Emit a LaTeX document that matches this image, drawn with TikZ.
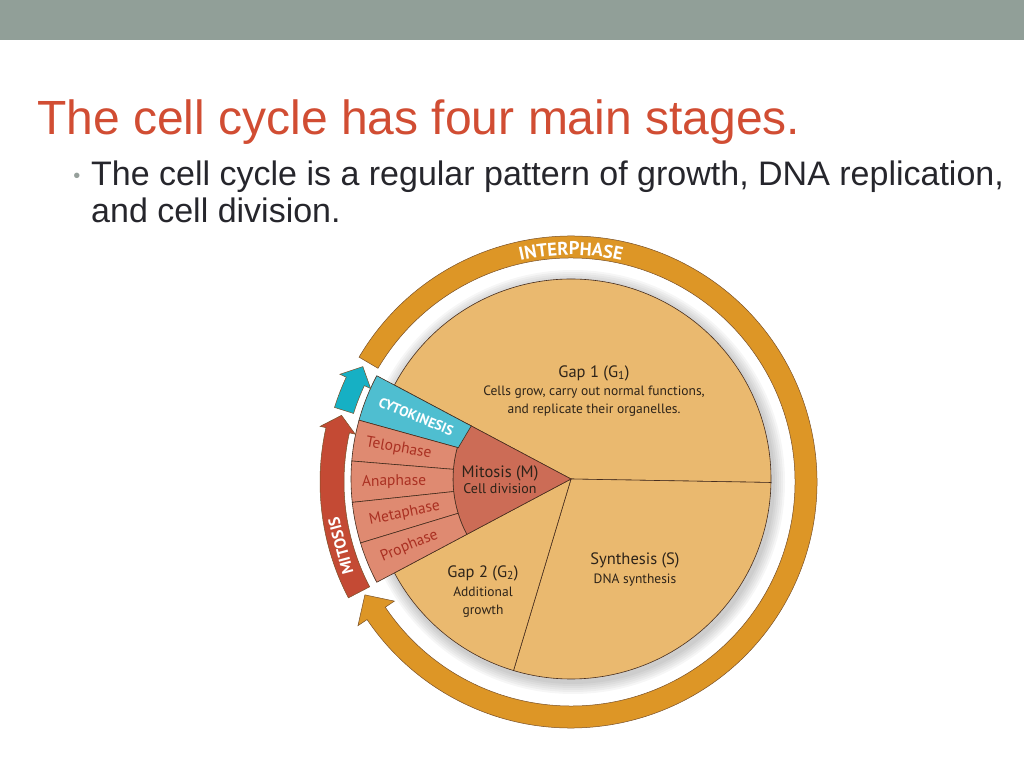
\documentclass[tikz,border=0pt]{standalone}
\usepackage{fontspec}
\setmainfont{Liberation Sans}
\newfontfamily\labfont{PT Sans}
\usetikzlibrary{decorations.text}
\definecolor{topbar}{RGB}{145,159,152}
\definecolor{titlered}{RGB}{209,77,51}
\definecolor{bodytext}{RGB}{38,38,44}
\definecolor{bulletgray}{RGB}{150,160,155}
\definecolor{piefill}{RGB}{234,185,111}
\definecolor{pieedge}{RGB}{70,45,30}
\definecolor{pietext}{RGB}{45,35,25}
\definecolor{mitcore}{RGB}{204,108,86}
\definecolor{phasefill}{RGB}{223,138,113}
\definecolor{phasetext}{RGB}{170,48,34}
\definecolor{cytofill}{RGB}{79,190,208}
\definecolor{cytoteal}{RGB}{22,176,196}
\definecolor{mitred}{RGB}{196,74,52}
\definecolor{interorange}{RGB}{221,150,38}
\definecolor{arrowedge}{RGB}{120,80,40}
\tikzset{
  sector/.style={fill=#1, draw=pieedge, line width=.6pt},
  piehead/.style={font=\labfont\fontsize{16.5}{18}\selectfont, text=pietext, inner sep=0pt},
  pielabel/.style={font=\labfont\fontsize{13.5}{18.5}\selectfont, text=pietext, align=center, inner sep=0pt},
  phaselabel/.style={font=\labfont\fontsize{15.5}{17}\selectfont, text=phasetext, inner sep=0pt},
  bandlabel/.style={font=\labfont\bfseries\fontsize{14}{16}\selectfont, text=white, inner sep=0pt}
}
% colour, from, head base, tip, radius, half width, half head
\newcommand\ringarrow[7]{%
  \filldraw[fill=#1, draw=arrowedge, line width=.5pt]
    ({#2}:{#5+#6}) arc[start angle=#2, end angle=#3, radius={#5+#6}]
    -- ({#3}:{#5+#7}) -- ({#4}:{#5}) -- ({#3}:{#5-#7})
    -- ({#3}:{#5-#6}) arc[start angle=#3, end angle=#2, radius={#5-#6}] -- cycle;}

\begin{document}
\begin{tikzpicture}[x=1pt,y=1pt]
  \useasboundingbox (0,0) rectangle (1024,768);
  \fill[topbar] (0,728) rectangle (1024,768);

  \node[anchor=base west, inner sep=0pt, font=\fontsize{48}{48}\selectfont, text=titlered] (title) at (37,633) {The cell cycle has four main stages.};
  \node[text=bulletgray, font=\fontsize{20}{20}\selectfont] (dot) at (77,590) {•};
  \node[anchor=base west, inner sep=0pt, font=\fontsize{34}{34}\selectfont, text=bodytext] (line1) at (91,582) {The cell cycle is a regular pattern of growth, DNA replication,};
  \node[anchor=base west, inner sep=0pt, font=\fontsize{34}{34}\selectfont, text=bodytext] (line2) at (91,545) {and cell division.};

  \coordinate (O) at (571,289);
  \begin{scope}[shift={(O)}]
    % soft shadow
    \foreach \r in {202,204,...,212}
      \fill[black, opacity=.035] (2,-3) circle (\r);

    % interphase pie
    \filldraw[sector=piefill] (0,0) -- (-1:200) arc[start angle=-1, end angle=152, radius=200] -- cycle;
    \filldraw[sector=piefill] (0,0) -- (-106.7:200) arc[start angle=-106.7, end angle=-1, radius=200] -- cycle;
    \filldraw[sector=piefill] (0,0) -- (208:200) arc[start angle=208, end angle=253.3, radius=200] -- cycle;

    % mitosis wedge
    \filldraw[sector=mitcore] (0,0) -- (152:118) arc[start angle=152, end angle=208, radius=118] -- cycle;
    \filldraw[sector=cytofill] (152:113) -- (152:220) arc[start angle=152, end angle=164.5, radius=220] -- (164.5:117) -- cycle;
    \foreach \a/\b in {164.5/175.3, 175.3/186.1, 186.1/196.9, 196.9/208}
      \filldraw[sector=phasefill] (\a:118) -- (\a:220) arc[start angle=\a, end angle=\b, radius=220]
        -- (\b:118) arc[start angle=\b, end angle=\a, radius=118] -- cycle;

    \node[bandlabel, rotate=-22] (cyto) at (158:167) {CYTOKINESIS};
    \node[phaselabel, rotate=-10] (telo) at (170:175) {Telophase};
    \node[phaselabel, rotate=1] (ana) at (180.9:177) {Anaphase};
    \node[phaselabel, rotate=11.5] (meta) at (191.7:170) {Metaphase};
    \node[phaselabel, rotate=22.5] (pro) at (202.5:175) {Prophase};

    % stage labels
    \node[piehead] (g1) at (23,106) {Gap 1 (G\textsubscript{1})};
    \node[pielabel] (g1txt) at (23,78) {Cells grow, carry out normal functions,\\and replicate their organelles.};
    \node[piehead] (syn) at (64,-81) {Synthesis (S)};
    \node[pielabel] (syntxt) at (64,-101) {DNA synthesis};
    \node[piehead] (g2) at (-88,-94) {Gap 2 (G\textsubscript{2})};
    \node[pielabel] (g2txt) at (-88,-123) {Additional\\growth};
    \node[piehead] (mit) at (-71,6) {Mitosis (M)};
    \node[pielabel, font=\labfont\fontsize{14}{15}\selectfont] (mittxt) at (-71,-10) {Cell division};

    % cycle arrows
    \begin{scope}[yshift=-3]
      \ringarrow{interorange}{149.5}{-146}{-151.3}{235}{11}{22}
      \ringarrow{mitred}{207.5}{167.5}{163.8}{239}{12}{18}
      \ringarrow{cytoteal}{162.5}{155}{151}{238}{10}{17}
      \path[decorate, decoration={text along path, text align=center, text color=white,
        text={|\labfont\bfseries\fontsize{18.5}{18.5}\selectfont|INTERPHASE}}]
        (114:227) arc[start angle=114, end angle=66, radius=227];
      \node[bandlabel, font=\labfont\bfseries\fontsize{16}{16}\selectfont, rotate=105] (mitarrow) at (195.5:239) {MITOSIS};
    \end{scope}
  \end{scope}
\end{tikzpicture}
\end{document}
